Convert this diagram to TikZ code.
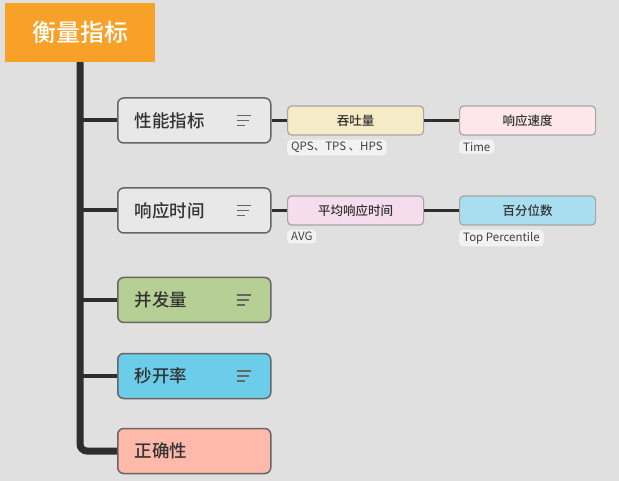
\documentclass[tikz,border=0pt]{standalone}
\usepackage{fontspec}
\setmainfont{Noto Sans CJK SC}[BoldFont={Noto Sans CJK SC Medium}]
\usetikzlibrary{calc}
\definecolor{bgc}{HTML}{E0E0E0}
\definecolor{rootc}{HTML}{F7A128}
\definecolor{linec}{HTML}{2E2E2E}
\definecolor{lvgray}{HTML}{E8E8E8}
\definecolor{lvgreen}{HTML}{B5CF94}
\definecolor{lvblue}{HTML}{6CCDEB}
\definecolor{lvred}{HTML}{FFB9AB}
\definecolor{cyellow}{HTML}{F5EBC6}
\definecolor{cpink}{HTML}{FDE7EA}
\definecolor{clav}{HTML}{F6DDEE}
\definecolor{cblue}{HTML}{A9DDF0}
\definecolor{txt}{HTML}{333333}
\tikzset{
  rootbox/.style={fill=rootc, text=white, font=\fontsize{24}{28}\selectfont\bfseries,
    minimum width=150, minimum height=59, inner sep=0},
  lvone/.style={draw=black!60, line width=1.5pt, rounded corners=6pt, minimum height=45,
    text width=119, align=left, inner xsep=17, inner ysep=0, anchor=west, text=txt,
    font=\fontsize{17.5}{20}\selectfont\bfseries},
  lvtwo/.style={draw=black!35, line width=1.2pt, rounded corners=4pt, minimum height=29,
    minimum width=136, inner sep=0, anchor=west, text=txt,
    font=\fontsize{12.5}{15}\selectfont\bfseries},
  tag/.style={fill=black!5, rounded corners=4pt, inner xsep=4, inner ysep=2.5, anchor=north west,
    text=black!75, font=\fontsize{11.5}{13}\selectfont},
  trunk/.style={draw=linec, line width=7pt, rounded corners=7pt},
  branch/.style={draw=linec, line width=4pt},
  link/.style={draw=linec, line width=3pt},
  iconline/.style={draw=black!60, line width=1.6pt},
}
\begin{document}
\begin{tikzpicture}[x=1pt,y=-1pt]
\fill[bgc] (0,0) rectangle (619,481);
\useasboundingbox (0,0) rectangle (619,481);

\node[rootbox] (root) at (80,32.5) {衡量指标};

\node[lvone, fill=lvgray] (c1) at (117,120.5) {性能指标};
\node[lvone, fill=lvgray] (c2) at (117,210.5) {响应时间};
\node[lvone, fill=lvgreen] (c3) at (117,300) {并发量};
\node[lvone, fill=lvblue] (c4) at (117,376) {秒开率};
\node[lvone, fill=lvred] (c5) at (117,451) {正确性};

\node[lvtwo, fill=cyellow] (d1) at (287,120.5) {吞吐量};
\node[lvtwo, fill=cpink] (d2) at (459,120.5) {响应速度};
\node[lvtwo, fill=clav] (d3) at (287,210.5) {平均响应时间};
\node[lvtwo, fill=cblue] (d4) at (459,210.5) {百分位数};

\node[tag] (t1) at (287,139.5) {QPS、TPS 、HPS};
\node[tag] (t2) at (459,139.5) {Time};
\node[tag] (t3) at (287,229.5) {AVG};
\node[tag] (t4) at (459,229.5) {Top Percentile};

\draw[trunk] (root.south) |- (c5.west);
\foreach \c in {c1,c2,c3,c4}{
  \draw[branch] (root.south |- \c.west) -- (\c.west);
  \draw[iconline] ($(\c.east)+(-35,-5)$) -- ($(\c.east)+(-21,-5)$);
  \draw[iconline] ($(\c.east)+(-35,0)$) -- ($(\c.east)+(-23,0)$);
  \draw[iconline] ($(\c.east)+(-35,5)$) -- ($(\c.east)+(-27,5)$);
}
\draw[link] (c1.east) -- (d1.west);
\draw[link] (d1.east) -- (d2.west);
\draw[link] (c2.east) -- (d3.west);
\draw[link] (d3.east) -- (d4.west);
\end{tikzpicture}
\end{document}
